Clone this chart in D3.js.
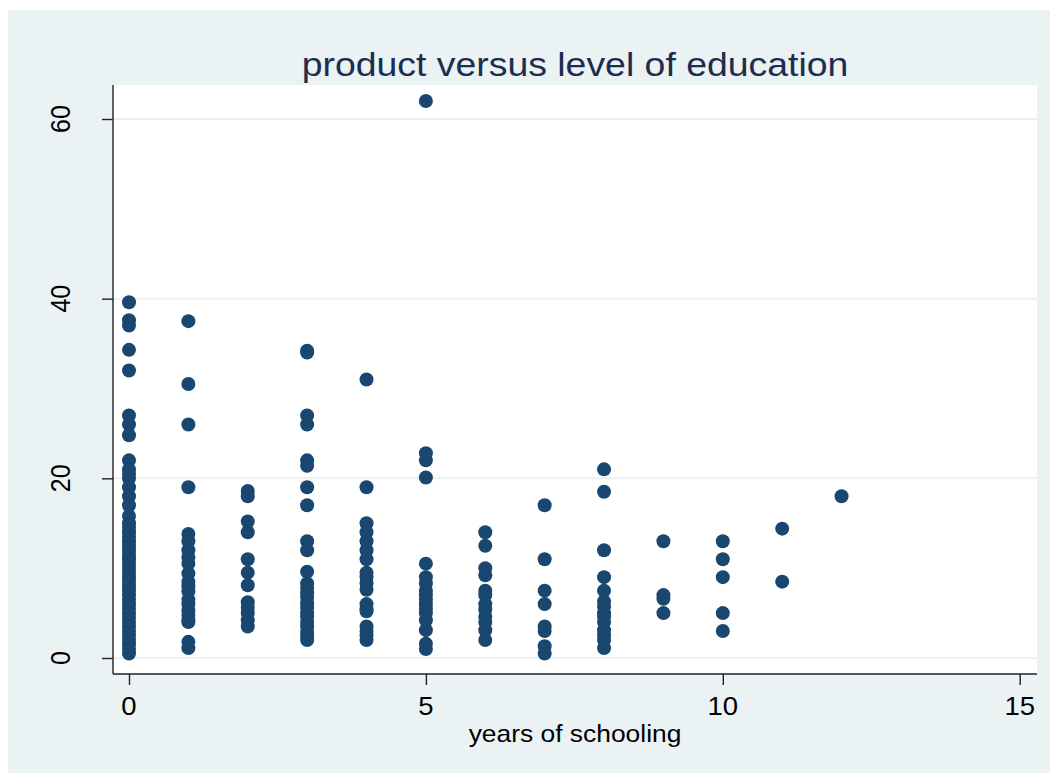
<!DOCTYPE html>
<html>
<head>
<meta charset="utf-8">
<script src="https://cdn.jsdelivr.net/npm/d3@7"></script>
<style>
    body { margin: 0; background: #ffffff; }
    text { font-family: "Liberation Sans", Arial, sans-serif; }
</style>
</head>
<body>
<div id="chart"></div>
<script>
// product by years of schooling, one list per schooling level
const years = [0, 1, 2, 3, 4, 5, 6, 7, 8, 9, 10, 11, 12];
const product0 = [39.6, 37.6, 37.0, 34.3, 32.0, 27.0, 26.0, 24.8, 22.0, 21.0, 20.5, 20.0, 19.0, 18.0, 17.0,
    15.8, 15.0, 14.5, 14.0, 13.5, 13.0, 12.5, 12.0, 11.5, 11.0, 10.5, 10.0, 9.5, 9.0, 8.5, 8.0, 7.5,
    7.0, 6.5, 6.0, 5.5, 5.0, 4.5, 4.0, 3.5, 3.0, 2.5, 2.0, 1.5, 1.0, 0.5];
const product1 = [37.5, 30.5, 26.0, 19.0, 13.8, 13.0, 12.0, 11.2, 10.5, 9.4, 8.5, 8.0, 7.4, 6.5, 6.0, 5.3, 4.8, 4.2, 4.0, 1.8, 1.1];
const product2 = [18.6, 18.0, 15.2, 14.0, 11.0, 9.5, 8.1, 6.2, 5.6, 5.0, 4.2, 3.5];
const product3 = [34.2, 34.0, 27.0, 26.0, 22.0, 21.4, 19.0, 17.0, 13.0, 12.0, 9.6, 8.3, 7.8, 7.2, 6.8, 6.1, 5.6, 5.0, 4.6, 4.0, 3.5, 2.9, 2.4, 2.0];
const product4 = [31.0, 19.0, 15.0, 14.0, 13.0, 12.0, 11.0, 9.5, 9.0, 8.3, 7.6, 6.0, 5.5, 5.2, 3.5, 3.0, 2.5, 2.0];
const product5 = [62.0, 22.8, 22.0, 20.1, 10.5, 9.0, 8.3, 7.5, 7.0, 6.5, 6.0, 5.5, 5.0, 4.2, 3.1, 1.6, 1.0];
const product6 = [14.0, 12.5, 10.0, 9.2, 7.5, 7.0, 6.0, 5.4, 4.6, 4.0, 3.1, 2.0];
const product7 = [17.0, 11.0, 7.5, 6.0, 3.5, 3.0, 1.3, 0.5];
const product8 = [21.0, 18.5, 12.0, 9.0, 7.5, 6.3, 5.7, 5.0, 4.6, 4.0, 3.1, 2.5, 2.0, 1.1];
const product9 = [13.0, 7.0, 6.6, 5.0];
const product10 = [13.0, 11.0, 9.0, 5.0, 3.0];
const product11 = [14.4, 8.5];
const product12 = [18.0];

const xTicks = [0, 5, 10, 15];
const yTicks = [0, 20, 40, 60];

const title = "product versus level of education";
const xTitle = "years of schooling";

const columns = [product0, product1, product2, product3, product4, product5, product6,
    product7, product8, product9, product10, product11, product12];
const points = [];
columns.forEach((col, i) => col.forEach(v => points.push({ x: years[i], y: v })));

const width = 1050, height = 773;
const plot = { left: 113, right: 1037, top: 85, bottom: 674 };
const stretch = 1.1;  // text in the original is a little wide

const svg = d3.select("#chart").append("svg")
    .attr("width", width)
    .attr("height", height);

// outer graph region
svg.append("rect")
    .attr("x", 8).attr("y", 10)
    .attr("width", width - 8).attr("height", height - 10)
    .attr("fill", "#eaf2f3");

// plot region
svg.append("rect")
    .attr("x", plot.left).attr("y", plot.top)
    .attr("width", plot.right - plot.left).attr("height", plot.bottom - plot.top)
    .attr("fill", "#ffffff");

const x = d3.scaleLinear().domain([0, 15]).range([129, 1019.7]);
const y = d3.scaleLinear().domain([0, 60]).range([658, 119]);

// gridlines
svg.append("g")
    .selectAll("line")
    .data(yTicks)
    .join("line")
    .attr("x1", plot.left).attr("x2", plot.right)
    .attr("y1", d => y(d)).attr("y2", d => y(d))
    .attr("stroke", "#eaf2f3")
    .attr("stroke-width", 2);

// y axis
const yAxis = svg.append("g")
    .attr("transform", `translate(${plot.left},0)`)
    .call(d3.axisLeft(y).tickValues(yTicks).tickSize(11).tickFormat(""));
yAxis.select(".domain")
    .attr("d", `M0,${plot.top}V${plot.bottom}`)
    .attr("stroke", "#222").attr("stroke-width", 1.4);
yAxis.selectAll(".tick line").attr("stroke", "#222").attr("stroke-width", 1.4);

svg.append("g")
    .selectAll("text")
    .data(yTicks)
    .join("text")
    .attr("transform", d => `translate(70,${y(d)}) scale(${stretch},1) rotate(-90)`)
    .attr("text-anchor", "middle")
    .attr("font-size", 25)
    .attr("fill", "#000")
    .text(d => d);

// x axis
const xAxis = svg.append("g")
    .attr("transform", `translate(0,${plot.bottom})`)
    .call(d3.axisBottom(x).tickValues(xTicks).tickSize(11).tickFormat(""));
xAxis.select(".domain")
    .attr("d", `M${plot.left},0H${plot.right}`)
    .attr("stroke", "#222").attr("stroke-width", 1.4);
xAxis.selectAll(".tick line").attr("stroke", "#222").attr("stroke-width", 1.4);

svg.append("g")
    .selectAll("text")
    .data(xTicks)
    .join("text")
    .attr("transform", d => `translate(${x(d)},715) scale(${stretch},1)`)
    .attr("text-anchor", "middle")
    .attr("font-size", 25)
    .attr("fill", "#000")
    .text(d => d);

const midX = (plot.left + plot.right) / 2;

svg.append("text")
    .attr("transform", `translate(${midX},742) scale(${stretch},1)`)
    .attr("text-anchor", "middle")
    .attr("font-size", 24)
    .attr("fill", "#000")
    .text(xTitle);

svg.append("text")
    .attr("transform", `translate(${midX},76) scale(${stretch},1)`)
    .attr("text-anchor", "middle")
    .attr("font-size", 34)
    .attr("fill", "#1c2d50")
    .text(title);

// markers
svg.append("g")
    .selectAll("circle")
    .data(points)
    .join("circle")
    .attr("cx", d => x(d.x))
    .attr("cy", d => y(d.y))
    .attr("r", 7)
    .attr("fill", "#1a476f");
</script>
</body>
</html>
